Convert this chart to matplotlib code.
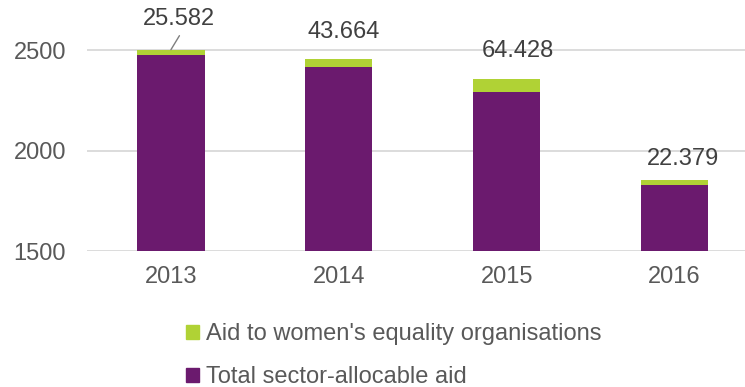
import numpy as np
import matplotlib.pyplot as plt
from matplotlib.patches import Patch

years = ['2013', '2014', '2015', '2016']
total_aid = [2477, 2414, 2290, 1830]
women_aid = [25.582, 43.664, 64.428, 22.379]
women_labels = ['25.582', '43.664', '64.428', '22.379']

purple = '#6B1A6E'
green = '#B0D235'
txt = '#595959'
grid = '#D9D9D9'

plt.rcParams['font.family'] = ['Liberation Sans', 'DejaVu Sans']

fig = plt.figure(figsize=(7.45, 3.87), dpi=100)
ax = fig.add_axes([87/745, 136/387, (745-87)/745, 251/387])

x = np.arange(len(years))
ax.bar(x, total_aid, 0.4, color=purple, zorder=3)
ax.bar(x, women_aid, 0.4, bottom=total_aid, color=green, zorder=3)

ax.set_xlim(-0.5, 3.42)
ax.set_ylim(1500, 2750)
ax.set_yticks([1500, 2000, 2500])
ax.set_xticks(x)
ax.set_xticklabels(years)
ax.grid(axis='y', color=grid, lw=1.3, zorder=0)
ax.tick_params(length=0, labelsize=17, colors=txt)
ax.tick_params(axis='y', pad=15)
ax.tick_params(axis='x', pad=11)
for s in ax.spines.values():
    s.set_visible(False)

# label offsets in pixels
offs = [(8.5, 31), (4.5, 27), (11, 28), (8.5, 21)]
for i, (t, w, lab) in enumerate(zip(total_aid, women_aid, women_labels)):
    ax.annotate(lab, (x[i], t + w), xytext=offs[i], textcoords='offset pixels',
                ha='center', va='center', fontsize=17, color='#404040',
                annotation_clip=False)
# leader line for the 2013 label
ax.annotate('', (x[0], total_aid[0] + women_aid[0]), xytext=(8.5, 14),
            textcoords='offset pixels', annotation_clip=False,
            arrowprops=dict(arrowstyle='-', color='#7F7F7F', lw=1,
                            shrinkA=0, shrinkB=0))

handles = [Patch(color=green, label="Aid to women's equality organisations"),
           Patch(color=purple, label='Total sector-allocable aid')]
fig.legend(handles=handles, loc='upper left', bbox_to_anchor=(186/745, 1 - 323/387),
           frameon=False, fontsize=17, handlelength=0.55, handleheight=0.55,
           handletextpad=0.3, labelspacing=0.9, borderpad=0, borderaxespad=0,
           labelcolor=txt)

fig.savefig('out.png', dpi=100)
